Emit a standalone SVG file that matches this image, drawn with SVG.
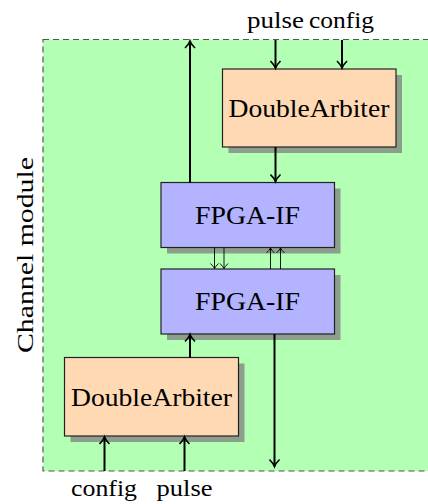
<svg xmlns="http://www.w3.org/2000/svg" width="428" height="504" viewBox="0 0 428 504">
<defs>
<style>
.t{font-family:"Liberation Serif","DejaVu Serif",serif;fill:#000}
.box{stroke:#222;stroke-width:1.2}
.sh{fill:#8c9e8c}
.c{stroke:#000;stroke-width:2;fill:none}
.thin{stroke:#000;stroke-width:0.9;fill:none}
</style>
<marker id="ah" markerWidth="12" markerHeight="12" refX="9" refY="6" orient="auto" markerUnits="userSpaceOnUse">
<path d="M2,1 Q6,5 9,6 Q6,7 2,11" fill="none" stroke="#000" stroke-width="1.6"/>
</marker>
<marker id="ahs" markerWidth="10" markerHeight="10" refX="7" refY="5" orient="auto" markerUnits="userSpaceOnUse">
<path d="M2,1 Q5,4 7,5 Q5,6 2,9" fill="none" stroke="#000" stroke-width="0.9"/>
</marker>
</defs>
<g id="module">
<rect x="43" y="39.5" width="400" height="431.5" fill="#b3ffb3" stroke="#555" stroke-width="1.2" stroke-dasharray="6,4"/>
<text class="t" font-size="24" transform="translate(33,255) rotate(-90)" text-anchor="middle" textLength="196" lengthAdjust="spacingAndGlyphs">Channel module</text>
</g>
<g id="arbiter-top">
<rect class="sh" x="228.5" y="75" width="173.5" height="78"/>
<rect class="box" x="222.5" y="69" width="173.5" height="78" fill="#ffd9b3"/>
<text class="t" x="309" y="116.5" font-size="25" text-anchor="middle" textLength="161" lengthAdjust="spacingAndGlyphs">DoubleArbiter</text>
</g>
<g id="fpga-top">
<rect class="sh" x="167" y="188.5" width="173.5" height="65"/>
<rect class="box" x="161" y="182.5" width="173.5" height="65" fill="#b3b3ff"/>
<text class="t" x="247.5" y="224" font-size="25" text-anchor="middle" textLength="105" lengthAdjust="spacingAndGlyphs">FPGA-IF</text>
</g>
<g id="fpga-bottom">
<rect class="sh" x="167" y="275" width="173.5" height="65"/>
<rect class="box" x="161" y="269" width="173.5" height="65" fill="#b3b3ff"/>
<text class="t" x="247.5" y="310" font-size="25" text-anchor="middle" textLength="105" lengthAdjust="spacingAndGlyphs">FPGA-IF</text>
</g>
<g id="arbiter-bottom">
<rect class="sh" x="70.5" y="363.5" width="174" height="78.5"/>
<rect class="box" x="64.5" y="357.5" width="174" height="78.5" fill="#ffd9b3"/>
<text class="t" x="151.5" y="405.5" font-size="25" text-anchor="middle" textLength="161" lengthAdjust="spacingAndGlyphs">DoubleArbiter</text>
</g>
<g id="labels">
<text class="t" x="275.5" y="28" font-size="23" text-anchor="middle" textLength="57" lengthAdjust="spacingAndGlyphs">pulse</text>
<text class="t" x="341.5" y="28" font-size="23" text-anchor="middle" textLength="65" lengthAdjust="spacingAndGlyphs">config</text>
<text class="t" x="104" y="496" font-size="23" text-anchor="middle" textLength="66" lengthAdjust="spacingAndGlyphs">config</text>
<text class="t" x="184.5" y="496" font-size="23" text-anchor="middle" textLength="56" lengthAdjust="spacingAndGlyphs">pulse</text>
</g>
<g id="connectors">
<line class="c" x1="275.5" y1="40" x2="275.5" y2="68" marker-end="url(#ah)"/>
<line class="c" x1="342" y1="40" x2="342" y2="68" marker-end="url(#ah)"/>
<line class="c" x1="275.5" y1="147" x2="275.5" y2="181.5" marker-end="url(#ah)"/>
<line class="c" x1="190" y1="182.5" x2="190" y2="41" marker-end="url(#ah)"/>
<line class="thin" x1="214.5" y1="247.5" x2="214.5" y2="268.5" marker-end="url(#ahs)"/>
<line class="thin" x1="224" y1="247.5" x2="224" y2="268.5" marker-end="url(#ahs)"/>
<line class="thin" x1="270.5" y1="269" x2="270.5" y2="248" marker-end="url(#ahs)"/>
<line class="thin" x1="280.5" y1="269" x2="280.5" y2="248" marker-end="url(#ahs)"/>
<line class="c" x1="190" y1="357.5" x2="190" y2="334.5" marker-end="url(#ah)"/>
<line class="c" x1="274.5" y1="334" x2="274.5" y2="466.5" marker-end="url(#ah)"/>
<line class="c" x1="104.5" y1="471" x2="104.5" y2="437" marker-end="url(#ah)"/>
<line class="c" x1="184.5" y1="471" x2="184.5" y2="437" marker-end="url(#ah)"/>
</g>
</svg>
